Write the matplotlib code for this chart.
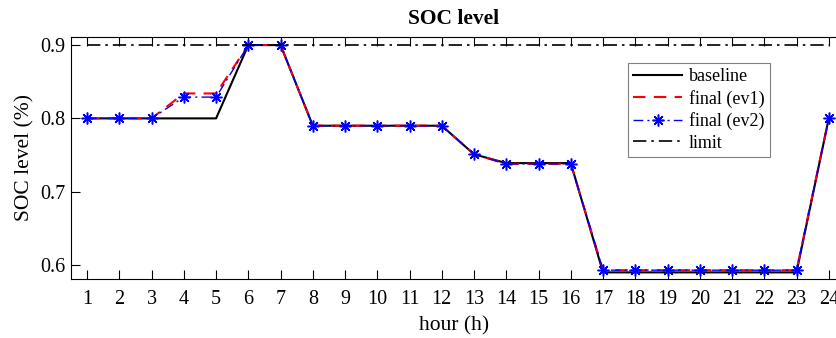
import numpy as np
import matplotlib
matplotlib.use('Agg')
import matplotlib.pyplot as plt

plt.rcParams['font.family'] = ['Liberation Serif', 'DejaVu Serif']

# SOC data per hour
hours = np.arange(1, 25)
baseline = [0.80, 0.80, 0.80, 0.80, 0.80, 0.90, 0.90, 0.79, 0.79, 0.79, 0.79, 0.79,
            0.751, 0.739, 0.739, 0.739, 0.590, 0.590, 0.590, 0.590, 0.590, 0.590, 0.590, 0.80]
final_ev1 = [0.80, 0.80, 0.80, 0.834, 0.834, 0.90, 0.90, 0.79, 0.79, 0.79, 0.79, 0.79,
             0.751, 0.738, 0.738, 0.738, 0.593, 0.593, 0.593, 0.593, 0.593, 0.593, 0.593, 0.80]
final_ev2 = [0.80, 0.80, 0.80, 0.829, 0.829, 0.90, 0.90, 0.79, 0.79, 0.79, 0.79, 0.79,
             0.751, 0.738, 0.738, 0.738, 0.593, 0.593, 0.593, 0.593, 0.593, 0.593, 0.593, 0.80]
limit = [0.9] * 24

fig = plt.figure(figsize=(8.37, 3.38), dpi=100)
ax = fig.add_axes([0.0848, 0.1746, 0.915, 0.716])

ax.plot(hours, baseline, color='black', lw=1.5, label='baseline')
ax.plot(hours, final_ev1, color='red', ls=(0, (6, 4)), lw=1.5, label='final (ev1)')
ax.plot(hours, final_ev2, color='blue', ls=(0, (7, 3, 1.5, 3)), lw=1, marker=(8, 2, 0),
        markersize=8.5, markeredgewidth=1.1, label='final (ev2)')
ax.plot(hours, limit, color='black', ls=(0, (8, 3, 1.5, 3)), lw=1.2, label='limit')

ax.set_xlim(0.5, 24.25)
ax.set_ylim(0.581, 0.911)
ax.set_xticks(hours)
ax.set_yticks([0.6, 0.7, 0.8, 0.9])
ax.tick_params(direction='in', top=True, right=False, labelsize=14.5, length=6.5, width=0.8)
ax.tick_params(axis='x', pad=8)
ax.tick_params(axis='y', pad=4)
ax.spines['right'].set_visible(False)
for s in ax.spines.values():
    s.set_linewidth(0.8)

ax.set_xlabel('hour (h)', fontsize=15.5, labelpad=5)
ax.set_ylabel('SOC level (%)', fontsize=15.5, labelpad=4)
ax.set_title('SOC level', fontsize=15.5, fontweight='bold', pad=9)

leg = ax.legend(loc='upper left', bbox_to_anchor=(0.727, 0.893), fontsize=13,
                fancybox=False, framealpha=1, edgecolor='gray', handlelength=2.7,
                borderpad=0.3, labelspacing=0.25, handletextpad=0.4, borderaxespad=0)
leg.get_frame().set_linewidth(0.8)

fig.savefig('out.png', dpi=100)
